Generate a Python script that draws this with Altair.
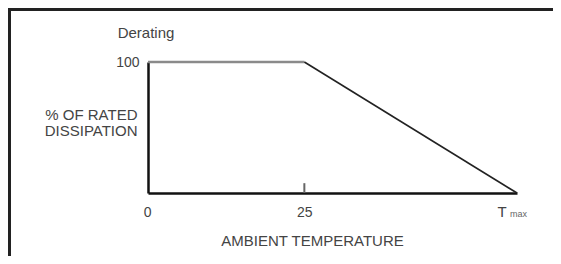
import altair as alt
import pandas as pd

# Data
temp = [0, 25, 59]          # ambient temperature (0, 25, T max)
pct = [100, 100, 0]         # % of rated dissipation
tick_labels = [0, 25]
tmax = 59

FONT = "Liberation Sans"
TXT = "#444444"

flat = pd.DataFrame({"t": temp[:2], "p": pct[:2]})
slope = pd.DataFrame({"t": temp[1:], "p": pct[1:]})
tick = pd.DataFrame({"t": [25], "p0": [0], "p1": [7.5]})
tlab = pd.DataFrame({"t": [tmax], "p": [0]})

xscale = alt.Scale(domain=[0, tmax], nice=False, zero=False)
yscale = alt.Scale(domain=[0, 100], nice=False)

xaxis = alt.Axis(values=tick_labels, ticks=False, grid=False, domainColor="#111",
                 domainWidth=2.5, labelFont=FONT, labelFontSize=14, labelColor=TXT,
                 labelPadding=12,
                 labelAlign={"condition": {"test": "datum.value == 0", "value": "right"},
                             "value": "center"},
                 labelOffset={"condition": {"test": "datum.value == 0", "value": 3},
                              "value": 0},
                 title="AMBIENT TEMPERATURE", titleFont=FONT,
                 titleFontSize=15, titleFontWeight="normal", titleColor=TXT,
                 titleX=164, titleY=47, titleBaseline="middle", titleAnchor="start",
                 titleAlign="center")
yaxis = alt.Axis(values=[100], ticks=False, grid=False, domainColor="#111",
                 domainWidth=2.5, labelFont=FONT, labelFontSize=14, labelColor=TXT,
                 labelPadding=9, title=["% OF RATED", "DISSIPATION"], titleFont=FONT,
                 titleFontSize=15, titleFontWeight="normal", titleColor=TXT,
                 titleAngle=0, titleAlign="right", titleBaseline="middle",
                 titleX=-11, titleY=52, titleLineHeight=16)

base = alt.Chart(flat).mark_line(color="#8a8a8a", strokeWidth=2.5).encode(
    x=alt.X("t:Q", scale=xscale, axis=xaxis),
    y=alt.Y("p:Q", scale=yscale, axis=yaxis),
)
slope_line = alt.Chart(slope).mark_line(color="#222", strokeWidth=1.6).encode(
    x=alt.X("t:Q", scale=xscale), y=alt.Y("p:Q", scale=yscale)
)
tick_rule = alt.Chart(tick).mark_rule(color="#666", strokeWidth=2).encode(
    x=alt.X("t:Q", scale=xscale), y=alt.Y("p0:Q", scale=yscale), y2="p1:Q"
)
t_text = alt.Chart(tlab).mark_text(font=FONT, fontSize=15, color=TXT, dx=-15, dy=19,
                                   baseline="middle").encode(
    x=alt.X("t:Q", scale=xscale), y=alt.Y("p:Q", scale=yscale), text=alt.value("T")
)
max_text = alt.Chart(tlab).mark_text(font=FONT, fontSize=9, color="#666", dx=-7, dy=21,
                                     align="left", baseline="middle").encode(
    x=alt.X("t:Q", scale=xscale), y=alt.Y("p:Q", scale=yscale), text=alt.value("max")
)
derating = alt.Chart(tlab).mark_text(font=FONT, fontSize=15, color=TXT,
                                     baseline="middle").encode(
    x=alt.value(-2), y=alt.value(-29), text=alt.value("Derating")
)
frame_top = alt.Chart(tlab).mark_rule(color="#222", strokeWidth=3).encode(
    x=alt.value(-140), x2=alt.value(405), y=alt.value(-52.5)
)
frame_left = alt.Chart(tlab).mark_rule(color="#222", strokeWidth=3).encode(
    x=alt.value(-138.5), y=alt.value(-54), y2=alt.value(194)
)

chart = alt.layer(
    base, slope_line, tick_rule, t_text, max_text, derating, frame_top, frame_left
).properties(
    width=369, height=131,
    padding={"left": 140, "top": 54, "right": 36, "bottom": 63},
    autosize=alt.AutoSizeParams(type="none"),
    background="white",
).configure_view(stroke=None)

chart.save("out.html", embed_options={"renderer": "svg", "actions": False})
